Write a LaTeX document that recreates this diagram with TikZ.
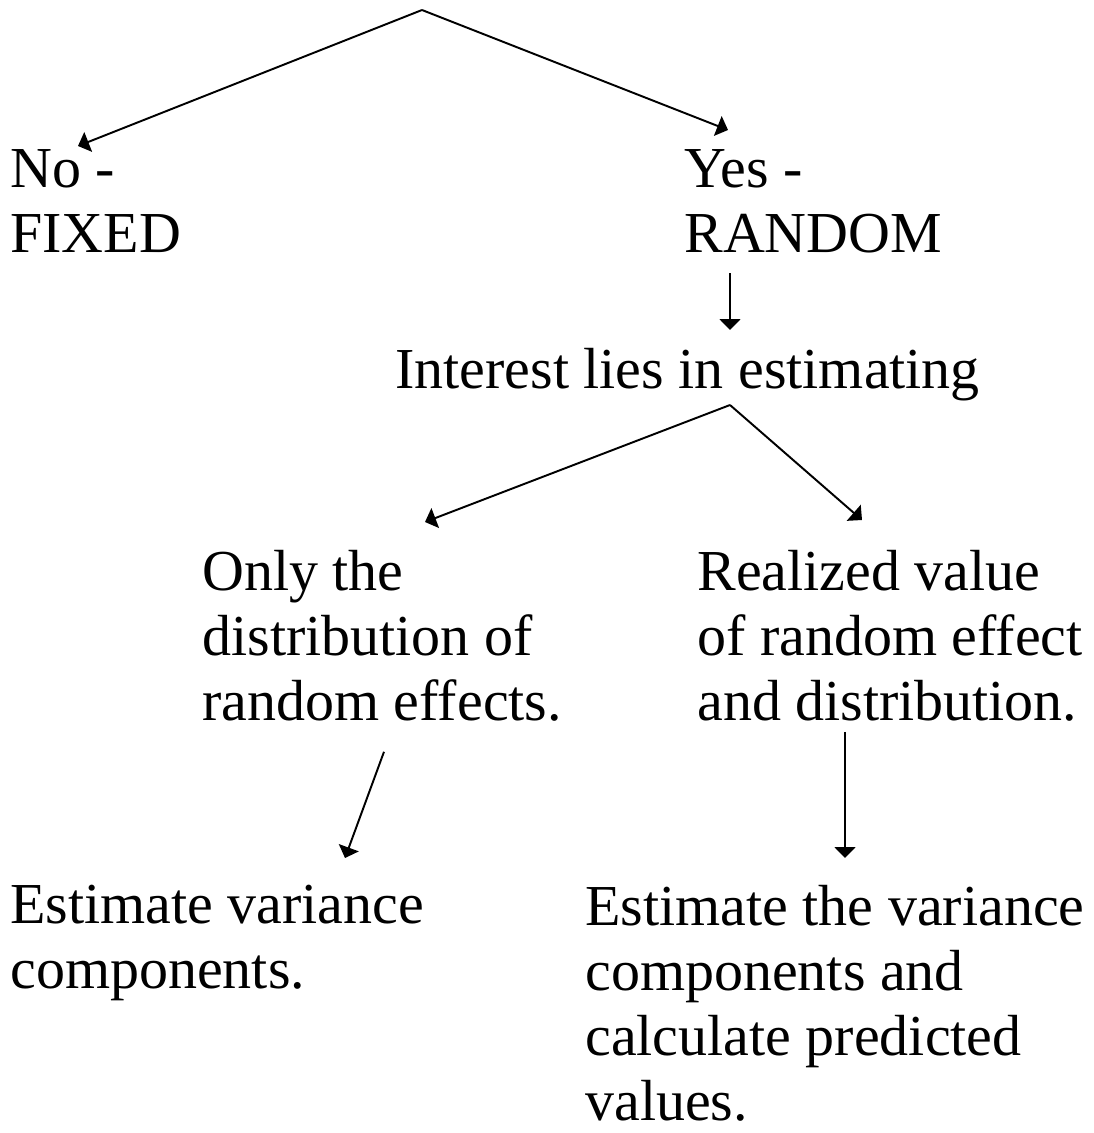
\documentclass[tikz,border=0pt]{standalone}
\usepackage{fontspec}
\setmainfont{Liberation Serif}
\usetikzlibrary{positioning, arrows.meta}
\tikzset{
  % text blocks
  txt/.style={
    anchor=north west, inner sep=0pt, align=left,
    font=\fontsize{33pt}{37pt}\selectfont, text=black
  },
  % arrow style
  arr/.style={-{Triangle[length=0.22cm, width=0.42cm]}, line width=1.1pt},
}
\begin{document}
\begin{tikzpicture}[x=0.02cm, y=-0.02cm]
  \useasboundingbox (0,0) rectangle (1094,1133);
  \node[txt] (nofix)    at (10,149)  {No -\\FIXED};
  \node[txt] (yesran)   at (684,149) {Yes -\\RANDOM};
  \node[txt] (interest) at (395,348) {Interest lies in estimating};
  \node[txt] (onlydist) at (202,550) {Only the\\distribution of\\random effects.};
  \node[txt] (realized) at (697,550) {Realized value\\of random effect\\and distribution.};
  \node[txt] (estvar)   at (10,885)  {Estimate variance\\components.};
  \node[txt] (estpred)  at (585,885) {Estimate the variance\\components and\\calculate predicted\\values.};
  % top split
  \coordinate (top) at (422,10);
  \draw[arr] (top) -- ([shift={(68,-3)}]nofix.north west);
  \draw[arr] (top) -- ([shift={(44,-19)}]yesran.north west);
  \draw[arr] ([shift={(46,20)}]yesran.south west) -- ([shift={(335,-18)}]interest.north west);
  % second split
  \coordinate (mid) at (730,405);
  \draw[arr] (mid) -- ([shift={(223,-28)}]onlydist.north west);
  \draw[arr] (mid) -- ([shift={(165,-30)}]realized.north west);
  % lower arrows
  \draw[arr] ([shift={(182,30)}]onlydist.south west) -- ([shift={(335,-27)}]estvar.north west);
  \draw[arr] ([shift={(148,10)}]realized.south west) -- ([shift={(260,-27)}]estpred.north west);
\end{tikzpicture}
\end{document}
